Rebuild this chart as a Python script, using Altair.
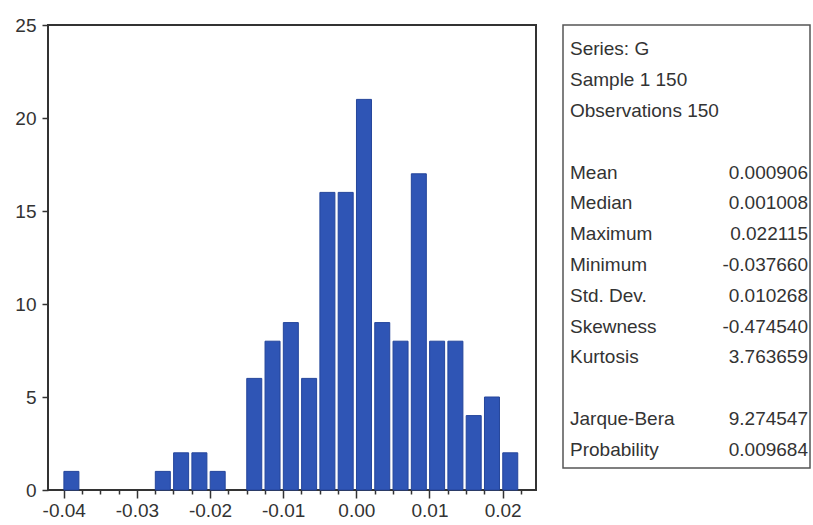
import altair as alt
import pandas as pd

FONT = "Liberation Sans, Arial, sans-serif"
TEXT = "#333333"

# Histogram of series G: lower edge of each bin and its count
BIN_WIDTH = 0.0025
bin_lower = [-0.04, -0.0375, -0.035, -0.0325, -0.03, -0.0275, -0.025, -0.0225,
             -0.02, -0.0175, -0.015, -0.0125, -0.01, -0.0075, -0.005, -0.0025,
             0.0, 0.0025, 0.005, 0.0075, 0.01, 0.0125, 0.015, 0.0175, 0.02]
counts = [1, 0, 0, 0, 0, 1, 2, 2, 1, 0, 6, 8, 9, 6, 16, 16, 21, 9, 8, 17, 8, 8, 4, 5, 2]

# axis ticks: every 0.0025, labelled every 0.01
x_ticks = [-0.04, -0.0375, -0.035, -0.0325, -0.03, -0.0275, -0.025, -0.0225,
           -0.02, -0.0175, -0.015, -0.0125, -0.01, -0.0075, -0.005, -0.0025,
           0.0, 0.0025, 0.005, 0.0075, 0.01, 0.0125, 0.015, 0.0175, 0.02, 0.0225]
y_ticks = [0, 5, 10, 15, 20, 25]

# descriptive statistics panel
stat_rows = [0, 1, 2, 4, 5, 6, 7, 8, 9, 10, 12, 13]
stat_labels = ["Series: G", "Sample 1 150", "Observations 150",
               "Mean", "Median", "Maximum", "Minimum", "Std. Dev.",
               "Skewness", "Kurtosis", "Jarque-Bera", "Probability"]
stat_values = ["", "", "",
               "0.000906", "0.001008", "0.022115", "-0.037660", "0.010268",
               "-0.474540", "3.763659", "9.274547", "0.009684"]

hist = pd.DataFrame({"lo": bin_lower, "count": counts})
hist = hist[hist["count"] > 0].copy()
hist["mid"] = hist["lo"] + BIN_WIDTH / 2

is_major = "abs(datum.value * 100 - round(datum.value * 100)) < 0.001"
label_expr = (f"{is_major} ? (datum.value < -0.00001 ? '-' : '') + "
              "format(abs(datum.value), '.2f') : ''")

bars = alt.Chart(hist).mark_bar(
    size=15, xOffset=-1.5, color="#2f55b5", stroke="#24459b", strokeWidth=1
).encode(
    x=alt.X(
        "mid:Q",
        scale=alt.Scale(domain=[-0.04147, 0.02388], nice=False, zero=False),
        axis=alt.Axis(
            values=x_ticks, title=None, domain=False, grid=False,
            tickSize={"condition": {"test": is_major, "value": 8}, "value": 4},
            tickColor=TEXT, tickWidth=1.5,
            labelExpr=label_expr, labelFont=FONT, labelFontSize=19,
            labelColor=TEXT, labelPadding=3, labelOverlap=False, labelFlush=False,
        ),
    ),
    y=alt.Y(
        "count:Q",
        scale=alt.Scale(domain=[0, 25], nice=False),
        axis=alt.Axis(
            values=y_ticks, title=None, domain=False, grid=False,
            tickSize=6, tickColor=TEXT, tickWidth=1.5,
            labelFont=FONT, labelFontSize=19, labelColor=TEXT, labelPadding=6,
        ),
    ),
).properties(width=488, height=465,
             view=alt.ViewBackground(stroke="#333333", strokeWidth=2))

stats = pd.DataFrame({"row": stat_rows, "label": stat_labels, "value": stat_values})
stat_base = alt.Chart(stats).encode(
    y=alt.Y("row:Q", scale=alt.Scale(domain=[-0.99, 13.393], reverse=True, nice=False, zero=False), axis=None)
)
stat_labels_layer = stat_base.mark_text(
    align="left", baseline="alphabetic", font=FONT, fontSize=19, color=TEXT
).encode(x=alt.value(7), text="label:N")
stat_values_layer = stat_base.mark_text(
    align="right", baseline="alphabetic", font=FONT, fontSize=19, color=TEXT
).encode(x=alt.value(245), text="value:N")
panel = alt.layer(stat_labels_layer, stat_values_layer).properties(
    width=247, height=443,
    view=alt.ViewBackground(stroke="#555555", strokeWidth=1.5),
)

chart = alt.hconcat(bars, panel, spacing=25).properties(
    padding={"left": 13, "top": 15, "right": 0, "bottom": 0},
    background="white",
)

chart.save("out.html", embed_options={"renderer": "svg", "actions": False})
